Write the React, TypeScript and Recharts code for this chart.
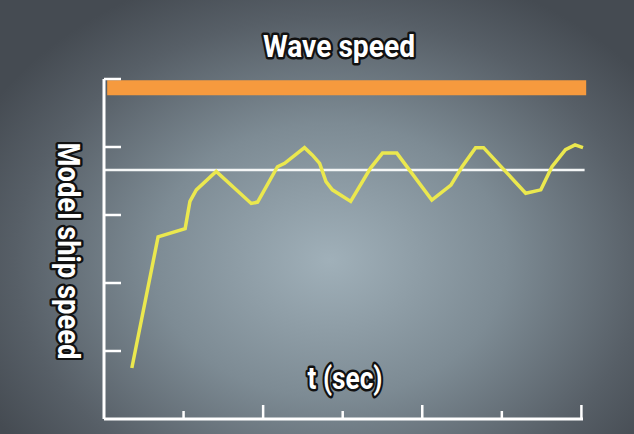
import { LineChart, Line, XAxis, YAxis, ReferenceLine } from 'recharts'

// time (sec) and model ship speed
const times = [0.35, 0.68, 1.02, 1.08, 1.16, 1.41, 1.85, 1.93, 2.18, 2.27, 2.52, 2.62, 2.71, 2.79, 2.87, 3.1, 3.35, 3.5, 3.68, 4.12, 4.36, 4.5, 4.67, 4.77, 5.3, 5.49, 5.63, 5.8, 5.92, 6.02]
const shipSpeed = [0.75, 2.68, 2.8, 3.2, 3.37, 3.64, 3.17, 3.19, 3.71, 3.76, 3.99, 3.88, 3.76, 3.49, 3.37, 3.2, 3.69, 3.91, 3.91, 3.22, 3.44, 3.71, 3.99, 3.99, 3.32, 3.37, 3.71, 3.96, 4.03, 3.99]
const xTicks = [0, 1, 2, 3, 4, 5, 6]
const yTicks = [0, 1, 2, 3, 4, 5]
const waveSpeed = 4.87
const meanSpeed = 3.66

const data = times.map((t, i) => ({ t, speed: shipSpeed[i] }))

const W = 634
const H = 434
const font = "Roboto, 'Liberation Sans', sans-serif"
const outline = { fill: '#fff', stroke: '#111', strokeWidth: 5, paintOrder: 'stroke', strokeLinejoin: 'round' as const }

function XTick({ x, y, payload }: any) {
  if (payload.value === 0) return null
  const len = payload.value % 2 ? 8 : 14
  return <line x1={x} x2={x} y1={y} y2={y - len} stroke="#fff" strokeWidth={2.5} />
}

function YTick({ x, y, payload }: any) {
  if (payload.value === 0) return null
  return <line x1={x} x2={x + 17} y1={y} y2={y} stroke="#fff" strokeWidth={2.5} />
}

export default function App() {
  return (
    <div
      style={{
        position: 'absolute',
        left: 0,
        top: 0,
        width: W,
        height: H,
        background: 'radial-gradient(ellipse 62% 70% at 52% 60%, #a0b0b9 0%, #7d8b94 45%, #575f67 80%, #454b52 100%)',
        overflow: 'hidden',
      }}
    >
      <LineChart width={W} height={H} data={data} margin={{ top: 79, right: 51, bottom: 5, left: 84 }}>
        <XAxis
          dataKey="t"
          type="number"
          domain={[0, 6]}
          ticks={xTicks}
          height={10}
          tickSize={0}
          tickMargin={0}
          tickLine={false}
          tick={<XTick />}
          axisLine={{ stroke: '#fff', strokeWidth: 3 }}
        />
        <YAxis
          type="number"
          domain={[0, 5]}
          ticks={yTicks}
          width={20}
          tickSize={0}
          tickMargin={0}
          tickLine={false}
          tick={<YTick />}
          axisLine={{ stroke: '#fff', strokeWidth: 3 }}
        />
        <ReferenceLine
          segment={[{ x: 0.04, y: waveSpeed }, { x: 6.06, y: waveSpeed }]}
          ifOverflow="visible"
          stroke="#f69a3e"
          strokeWidth={15}
        />
        <ReferenceLine
          segment={[{ x: 0, y: meanSpeed }, { x: 6.04, y: meanSpeed }]}
          ifOverflow="visible"
          stroke="#f4f6f6"
          strokeWidth={2.5}
        />
        <Line
          dataKey="speed"
          type="linear"
          stroke="#ebe84e"
          strokeWidth={3.5}
          dot={false}
          isAnimationActive={false}
        />
      </LineChart>
      <svg width={W} height={H} style={{ position: 'absolute', left: 0, top: 0, pointerEvents: 'none' }}>
        <text x={339} y={57} textAnchor="middle" textLength={152} lengthAdjust="spacingAndGlyphs" fontFamily={font} fontWeight="bold" fontSize={31} {...outline}>
          Wave speed
        </text>
        <text
          x={0}
          y={0}
          transform="translate(58 251) rotate(90)"
          textAnchor="middle"
          textLength={217}
          lengthAdjust="spacingAndGlyphs"
          fontFamily={font}
          fontWeight="bold"
          fontSize={31}
          {...outline}
        >
          Model ship speed
        </text>
        <text x={345} y={389} textAnchor="middle" textLength={75} lengthAdjust="spacingAndGlyphs" fontFamily={font} fontWeight="bold" fontSize={31} {...outline}>
          t (sec)
        </text>
      </svg>
    </div>
  )
}
